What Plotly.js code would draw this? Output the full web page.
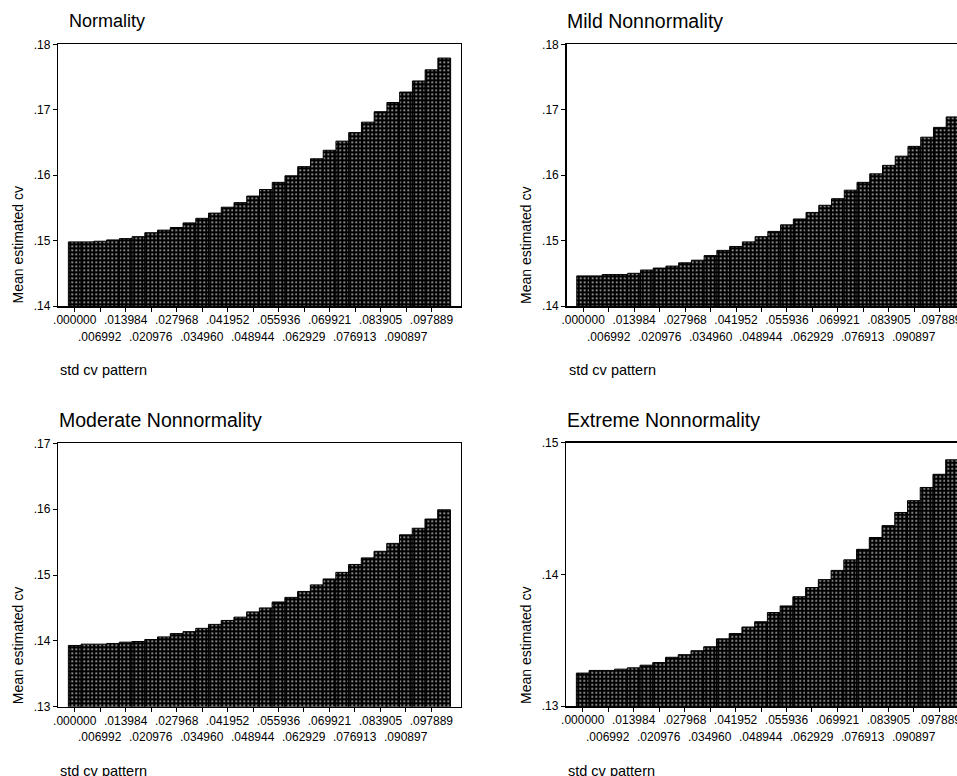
<!DOCTYPE html>
<html><head><meta charset="utf-8">
<script src="https://cdn.plot.ly/plotly-3.0.1.min.js"></script>
<style>html,body{margin:0;padding:0;overflow:hidden;background:#fff}</style>
</head><body><div id="chart" style="width:975px;height:776px"></div>
<script>
// ---- data ----
const categories = ['.000000','.003496','.006992','.010488','.013984','.017480','.020976','.024472','.027968','.031464',
  '.034960','.038456','.041952','.045448','.048944','.052440','.055936','.059432','.062929','.066425',
  '.069921','.073417','.076913','.080409','.083905','.087401','.090897','.094393','.097889','.101385'];
const normality = [.1498,.1498,.1499,.1501,.1503,.1506,.1512,.1516,.1520,.1527,
  .1534,.1542,.1551,.1558,.1568,.1578,.1589,.1599,.1613,.1625,
  .1638,.1652,.1665,.1681,.1697,.1711,.1727,.1744,.1761,.1779];
const mildNonnormality = [.1446,.1446,.1448,.1448,.1450,.1455,.1458,.1461,.1466,.1470,
  .1477,.1485,.1491,.1498,.1506,.1514,.1524,.1533,.1543,.1554,
  .1564,.1577,.1589,.1602,.1615,.1629,.1644,.1658,.1673,.1689];
const moderateNonnormality = [.1393,.1395,.1395,.1396,.1398,.1399,.1402,.1406,.1411,.1414,
  .1419,.1425,.1431,.1436,.1444,.1450,.1459,.1466,.1475,.1485,
  .1494,.1504,.1516,.1526,.1536,.1548,.1561,.1571,.1585,.1599];
const extremeNonnormality = [.1325,.1327,.1327,.1328,.1329,.1331,.1333,.1337,.1339,.1342,
  .1345,.1351,.1355,.1360,.1364,.1371,.1376,.1383,.1390,.1396,
  .1403,.1411,.1419,.1428,.1437,.1447,.1456,.1466,.1476,.1487];
const tickRow1 = ['.000000','.013984','.027968','.041952','.055936','.069921','.083905','.097889'];
const tickRow2 = ['.006992','.020976','.034960','.048944','.062929','.076913','.090897'];
const panelTitles = ['Normality','Mild Nonnormality','Moderate Nonnormality','Extreme Nonnormality'];
const yTicksTop = ['.14','.15','.16','.17','.18'];
const yTicksBottomLeft = ['.13','.14','.15','.16','.17'];
const yTicksBottomRight = ['.13','.14','.15'];
const yAxisTitle = 'Mean estimated cv';
const xAxisTitle = 'std cv pattern';

// ---- layout ----
const W = 975, H = 776;
const series = [normality, mildNonnormality, moderateNonnormality, extremeNonnormality];
const yTickSets = [yTicksTop, yTicksTop, yTicksBottomLeft, yTicksBottomRight];
const boxes = [
  {x0:58.3, x1:460.7, y0:44.3, y1:306, titleX:67, titleY:21, titleSize:18, yTitleX:17.5, xTitleY:370, row2Y:337},
  {x0:566.7, x1:969, y0:44.3, y1:306, titleX:565, titleY:21, titleSize:19.5, yTitleX:526, xTitleY:370, row2Y:337},
  {x0:58.3, x1:460.5, y0:443.3, y1:706.7, titleX:57, titleY:419.5, titleSize:19.5, yTitleX:17.5, xTitleY:771, row2Y:737},
  {x0:566.3, x1:968.5, y0:442.7, y1:706, titleX:565, titleY:419.5, titleSize:19.5, yTitleX:526, xTitleY:771, row2Y:737}
];
const FONT = 'Liberation Sans, Arial, sans-serif';
const TICK = 12;
const xr = [-1.29, 30.29];
const allTicks = categories.filter(c => tickRow1.includes(c) || tickRow2.includes(c));
const allTickText = allTicks.map(c => tickRow1.includes(c) ? c : '');

const traces = [];
const layout = {
  width: W, height: H,
  margin: {l:0, r:0, t:0, b:0},
  paper_bgcolor: '#fff', plot_bgcolor: '#fff',
  bargap: 0, showlegend: false,
  font: {family: FONT, color: '#000'},
  annotations: []
};

series.forEach((vals, i) => {
  const n = i + 1;
  const sx = n === 1 ? '' : String(n);
  const b = boxes[i];
  traces.push({
    type: 'bar', x: categories, y: vals,
    xaxis: 'x' + sx, yaxis: 'y' + sx,
    marker: {color: '#000', line: {color: '#000', width: 1},
      pattern: {shape: '.', fgcolor: '#fff', bgcolor: '#000', size: 4, solidity: 0.15}},
    hoverinfo: 'skip'
  });
  const yt = yTickSets[i];
  layout['xaxis' + sx] = {
    type: 'category', categoryorder: 'array', categoryarray: categories,
    domain: [b.x0 / W, b.x1 / W], anchor: 'y' + sx, range: xr,
    tickmode: 'array', tickvals: allTicks, ticktext: allTickText,
    ticks: 'outside', ticklen: 4, tickcolor: '#000', tickangle: 0,
    ticklabelstandoff: -2,
    showline: true, linecolor: '#000', linewidth: 1.5, mirror: true,
    showgrid: false, zeroline: false,
    tickfont: {family: FONT, size: TICK, color: '#000'}
  };
  layout['yaxis' + sx] = {
    domain: [1 - b.y1 / H, 1 - b.y0 / H], anchor: 'x' + sx,
    range: [parseFloat('0' + yt[0]), parseFloat('0' + yt[yt.length - 1])],
    tickmode: 'array', tickvals: yt.map(t => parseFloat('0' + t)), ticktext: yt,
    ticks: 'outside', ticklen: 4, tickcolor: '#000',
    showline: true, linecolor: '#000', linewidth: 1.5, mirror: true,
    showgrid: false, zeroline: false,
    tickfont: {family: FONT, size: TICK, color: '#000'}
  };
  // second row of category labels, positioned by category index on the x axis
  tickRow2.forEach(lbl => {
    layout.annotations.push({
      xref: 'x' + sx, yref: 'paper', x: categories.indexOf(lbl), y: 1 - b.row2Y / H,
      xanchor: 'center', yanchor: 'middle', showarrow: false,
      text: lbl, font: {family: FONT, size: TICK, color: '#000'}
    });
  });
  layout.annotations.push({
    xref: 'paper', yref: 'paper', x: b.titleX / W, y: 1 - b.titleY / H,
    xanchor: 'left', yanchor: 'middle', showarrow: false,
    text: panelTitles[i], font: {family: FONT, size: b.titleSize, color: '#000'}
  });
  layout.annotations.push({
    xref: 'paper', yref: 'paper', x: b.yTitleX / W, y: 1 - b.y1 / H,
    xanchor: 'center', yanchor: 'bottom', showarrow: false, textangle: -90,
    text: yAxisTitle, font: {family: FONT, size: 14, color: '#000'}
  });
  layout.annotations.push({
    xref: 'paper', yref: 'paper', x: b.x0 / W, y: 1 - b.xTitleY / H,
    xanchor: 'left', yanchor: 'middle', showarrow: false,
    text: xAxisTitle, font: {family: FONT, size: 14.5, color: '#000'}
  });
});

Plotly.newPlot('chart', traces, layout, {staticPlot: true, displayModeBar: false});
</script>
</body></html>
